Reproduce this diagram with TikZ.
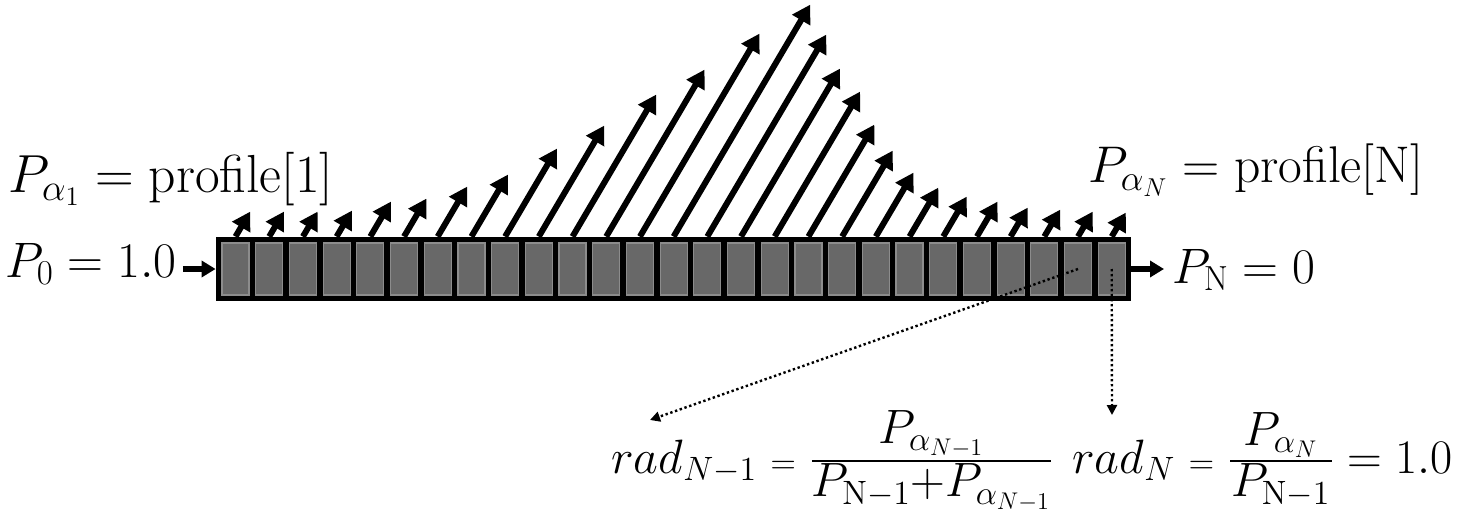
\RequirePackage{fix-cm}
\documentclass[tikz,border=0pt]{standalone}
\usepackage{amsmath}
\usetikzlibrary{arrows.meta}
\definecolor{cellgray}{HTML}{686868}
\definecolor{celledge}{HTML}{8C8C8C}
\newcommand{\cfr}[2]{\frac{\displaystyle #1}{\displaystyle #2}}
\begin{document}
\begin{tikzpicture}[x=0.5pt,y=-0.5pt,
  flow/.style={line width=3pt,-{Triangle[length=9pt,width=10pt]}},
  side/.style={line width=3pt,-{Triangle[length=7pt,width=8pt]}},
  probe/.style={line width=1.2pt,dash pattern=on 1.2pt off 1.3pt,-{Triangle[length=5pt,width=5pt]}},
  cellbox/.style={fill=cellgray,draw=celledge,line width=0.6pt,minimum width=13.5pt,minimum height=26pt,inner sep=0pt},
  lbl/.style={font=\fontsize{24.9}{30}\selectfont,inner sep=0pt,anchor=base west},
  eq/.style={font=\fontsize{24.1}{28}\selectfont,inner sep=0pt,anchor=base west}]
\useasboundingbox (0,0) rectangle (1457,519);
% strip
\node[fill=black,minimum width=457.5pt,minimum height=32pt,inner sep=0pt] (strip) at (673.5,269) {};
\foreach \i in {0,...,26}
  \node[cellbox] (c\i) at ({235.5+33.7*\i},269) {};
% emitted arrows
\foreach \i/\h in {0/25,1/25,2/25,3/26,4/35,5/38,6/50,7/62,8/88,9/111,10/142,11/167,12/203,13/232,14/202,15/168,16/145,17/112,18/86,19/64,20/49,21/40,22/35,23/29,24/27,25/25,26/24}{
  \path (c\i |- strip.north) ++({0.589*\h},{-\h}) coordinate (t\i);
  \draw[flow] (c\i |- strip.north) -- (t\i);
}
% labels
\node[lbl,font=\fontsize{26.8}{31}\selectfont] (pa1) at (8,192) {$P_{\alpha_1} = \mathrm{profile}[1]$};
\node[lbl,font=\fontsize{25.8}{31}\selectfont] (paN) at (1088,183) {$P_{\alpha_N} = \mathrm{profile}[\mathrm{N}]$};
\node[lbl] (p0) at (5,277) {$P_0 = 1.0$};
\node[lbl] (pN) at (1172,283) {$P_{\mathrm{N}} = 0$};
\draw[side,shorten <=3pt] (p0.east |- strip.west) -- (strip.west);
\draw[side,shorten >=4pt] (strip.east) -- (pN.west |- strip.east);
% formulas
\node[eq] (rad1) at (611,473) {$rad_{N-1} \mathrel{\scriptstyle=} \cfr{P_{\alpha_{N-1}}}{P_{\mathrm{N}-1}{+}P_{\alpha_{N-1}}}$};
\node[eq] (rad2) at (1072,473) {$rad_N \mathrel{\scriptstyle=} \cfr{\;P_{\alpha_N}\;}{P_{\mathrm{N}-1}} = 1.0$};
\coordinate (e1) at (650,420);
\coordinate (e2) at (1112,415);
\draw[probe] (c25.center) -- (e1);
\draw[probe] (c26.center) -- (e2);
\end{tikzpicture}
\end{document}
